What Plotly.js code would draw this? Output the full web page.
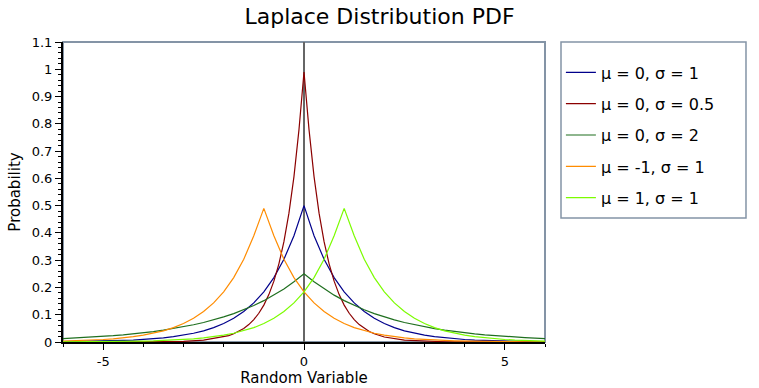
<!DOCTYPE html>
<html>
<head>
<meta charset="utf-8">
<script src="https://cdn.plot.ly/plotly-3.0.1.min.js"></script>
<style>html,body{margin:0;padding:0;background:#fff;}#chart{width:759px;height:388px;}</style>
</head>
<body>
<div id="chart"></div>
<script>
// Shared x grid (step 0.25)
const xGrid = [-6,-5.75,-5.5,-5.25,-5,-4.75,-4.5,-4.25,-4,-3.75,-3.5,-3.25,-3,-2.75,-2.5,-2.25,-2,-1.75,-1.5,-1.25,-1,-0.75,-0.5,-0.25,0,
  0.25,0.5,0.75,1,1.25,1.5,1.75,2,2.25,2.5,2.75,3,3.25,3.5,3.75,4,4.25,4.5,4.75,5,5.25,5.5,5.75,6];

// mu = 0, sigma = 1
const y_m0_s1 = [0.0012,0.0016,0.0020,0.0026,0.0034,0.0043,0.0056,0.0071,0.0092,0.0118,0.0151,0.0194,0.0249,0.0320,0.0410,0.0527,0.0677,0.0869,0.1116,0.1433,0.1839,0.2362,0.3033,0.3894,0.5,
  0.3894,0.3033,0.2362,0.1839,0.1433,0.1116,0.0869,0.0677,0.0527,0.0410,0.0320,0.0249,0.0194,0.0151,0.0118,0.0092,0.0071,0.0056,0.0043,0.0034,0.0026,0.0020,0.0016,0.0012];

// mu = 0, sigma = 0.5 (own x grid, finer near the peak)
const xHalf = [-6,-5.5,-5,-4.5,-4,-3.5,-3,-2.5,-2,-1.875,-1.75,-1.625,-1.5,-1.375,-1.25,-1.125,-1,-0.875,-0.75,-0.625,-0.5,-0.375,-0.25,-0.125,0,
  0.125,0.25,0.375,0.5,0.625,0.75,0.875,1,1.125,1.25,1.375,1.5,1.625,1.75,1.875,2,2.5,3,3.5,4,4.5,5,5.5,6];
const y_m0_s05 = [0.0000061,0.0000167,0.0000454,0.000123,0.000335,0.00091,0.00248,0.00674,0.0183,0.0235,0.0302,0.0388,0.0498,0.0639,0.0821,0.1054,0.1353,0.1738,0.2231,0.2865,0.3679,0.4724,0.6065,0.7788,0.99,
  0.7788,0.6065,0.4724,0.3679,0.2865,0.2231,0.1738,0.1353,0.1054,0.0821,0.0639,0.0498,0.0388,0.0302,0.0235,0.0183,0.00674,0.00248,0.00091,0.000335,0.000123,0.0000454,0.0000167,0.0000061];

// mu = 0, sigma = 2
const y_m0_s2 = [0.0125,0.0141,0.0160,0.0181,0.0205,0.0233,0.0264,0.0299,0.0338,0.0384,0.0435,0.0492,0.0558,0.0632,0.0716,0.0812,0.0920,0.1042,0.1181,0.1338,0.1516,0.1718,0.1947,0.2206,0.25,
  0.2206,0.1947,0.1718,0.1516,0.1338,0.1181,0.1042,0.0920,0.0812,0.0716,0.0632,0.0558,0.0492,0.0435,0.0384,0.0338,0.0299,0.0264,0.0233,0.0205,0.0181,0.0160,0.0141,0.0125];

// mu = -1, sigma = 1
const y_mm1_s1 = [0.0034,0.0043,0.0056,0.0071,0.0092,0.0118,0.0151,0.0194,0.0249,0.0320,0.0410,0.0527,0.0677,0.0869,0.1116,0.1433,0.1839,0.2362,0.3033,0.3894,0.49,
  0.3894,0.3033,0.2362,0.1839,0.1433,0.1116,0.0869,0.0677,0.0527,0.0410,0.0320,0.0249,0.0194,0.0151,0.0118,0.0092,0.0071,0.0056,0.0043,0.0034,0.0026,0.0020,0.0016,0.0012,0.00097,0.00075,0.00058,0.00046];

// mu = 1, sigma = 1
const y_m1_s1 = [0.00046,0.00058,0.00075,0.00097,0.0012,0.0016,0.0020,0.0026,0.0034,0.0043,0.0056,0.0071,0.0092,0.0118,0.0151,0.0194,0.0249,0.0320,0.0410,0.0527,0.0677,0.0869,0.1116,0.1433,0.1839,0.2362,0.3033,0.3894,0.49,
  0.3894,0.3033,0.2362,0.1839,0.1433,0.1116,0.0869,0.0677,0.0527,0.0410,0.0320,0.0249,0.0194,0.0151,0.0118,0.0092,0.0071,0.0056,0.0043,0.0034];

const seriesNames = ["μ = 0, σ = 1","μ = 0, σ = 0.5","μ = 0, σ = 2","μ = -1, σ = 1","μ = 1, σ = 1"];
const seriesColors = ["#00008b","#8b0000","#1f6f1f","#ff8c00","#7cfc00"];
const seriesX = [xGrid, xHalf, xGrid, xGrid, xGrid];
const seriesY = [y_m0_s1, y_m0_s05, y_m0_s2, y_mm1_s1, y_m1_s1];

const FONT = "DejaVu Sans, Verdana, sans-serif";

const traces = seriesNames.map((n,i)=>({
  type:'scatter', mode:'lines', name:n, x:seriesX[i], y:seriesY[i],
  line:{color:seriesColors[i], width:1.2}, legendgroup:'g'+i, hoverinfo:'skip'
}));

const layout = {
  width:759, height:388,
  margin:{l:63, r:214, t:42, b:46},
  paper_bgcolor:'#fff', plot_bgcolor:'#fff',
  font:{family:FONT, size:12, color:'#000'},
  title:{text:'Laplace Distribution PDF', font:{family:FONT, size:22, color:'#000'}, x:0.5, xanchor:'center', xref:'container',
    yref:'container', y:0.957, yanchor:'middle'},
  showlegend:true,
  legend:{x:1.033, xanchor:'left', y:0.955, yanchor:'top', borderwidth:0,
    bgcolor:'rgba(0,0,0,0)', font:{family:FONT, size:16, color:'#000'}, traceorder:'grouped', tracegroupgap:7.5,
    itemwidth:30},
  xaxis:{range:[-6,6], tickvals:[-5,0,5], ticktext:['-5','0','5'], ticks:'outside', ticklen:6, tickcolor:'#000',
    showline:true, linecolor:'#000', linewidth:2, showgrid:false,
    zeroline:true, zerolinecolor:'#666', zerolinewidth:2,
    minor:{dtick:1, ticks:'outside', ticklen:3, tickcolor:'#000'},
    tickfont:{family:FONT, size:13}, title:{text:'Random Variable', font:{family:FONT, size:15}, standoff:3}},
  yaxis:{range:[0,1.1], dtick:0.1, tick0:0, ticks:'outside', ticklen:6, tickcolor:'#000',
    showline:true, linecolor:'#000', linewidth:2, showgrid:false, zeroline:false,
    minor:{dtick:0.02, ticks:'outside', ticklen:3, tickcolor:'#000'},
    tickfont:{family:FONT, size:13}, title:{text:'Probability', font:{family:FONT, size:15}, standoff:7}},
  shapes:[
    {type:'rect', xref:'paper', yref:'paper', x0:0, x1:1, y0:0, y1:1, line:{color:'#8494a6', width:2}, layer:'below'},
    {type:'rect', xref:'paper', yref:'paper', x0:1.0332, x1:1.417, y0:0.4133, y1:1, line:{color:'#8494a6', width:1.5}, fillcolor:'rgba(0,0,0,0)', layer:'below'}
  ]
};

Plotly.newPlot('chart', traces, layout, {staticPlot:true, displayModeBar:false});
</script>
</body>
</html>
